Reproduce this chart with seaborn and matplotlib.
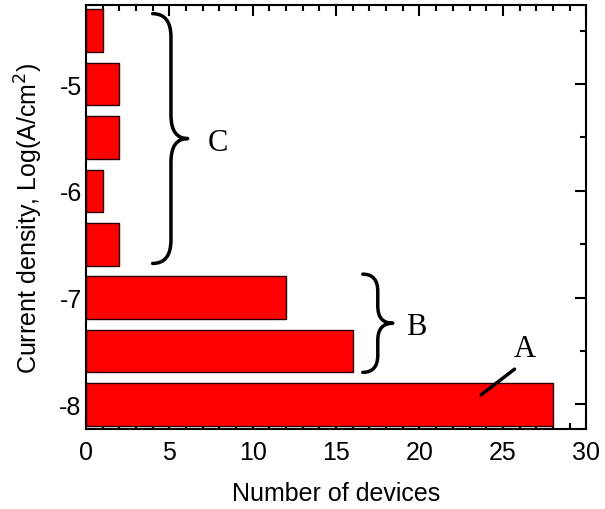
import matplotlib
matplotlib.use("Agg")
import matplotlib.pyplot as plt
import seaborn as sns
import pandas as pd
from matplotlib.path import Path
from matplotlib.patches import PathPatch
from matplotlib.ticker import MultipleLocator

log_density = [-8.0, -7.5, -7.0, -6.5, -6.0, -5.5, -5.0, -4.5]
num_devices = [28, 16, 12, 2, 1, 2, 2, 1]

sns.set_theme(style="ticks")
plt.rcParams['font.family'] = ['Liberation Sans', 'DejaVu Sans']
plt.rcParams['axes.unicode_minus'] = False
plt.rcParams['text.color'] = 'black'

df = pd.DataFrame({"density": log_density, "devices": num_devices})

fig = plt.figure(figsize=(6.05, 5.10), dpi=100)
ax = fig.add_axes([0.142, 0.157, 0.827, 0.831])

sns.barplot(data=df, x="devices", y="density", orient="y", native_scale=True,
            width=0.8, color="#ff0000", saturation=1, edgecolor="#2a0000",
            linewidth=1.0, ax=ax)

ax.set_xlim(0, 30)
ax.set_ylim(-8.23, -4.26)
ax.xaxis.set_major_locator(MultipleLocator(5))
ax.xaxis.set_minor_locator(MultipleLocator(1))
ax.yaxis.set_major_locator(MultipleLocator(1))
ax.yaxis.set_minor_locator(MultipleLocator(0.5))
ax.tick_params(which="both", direction="in", top=True, right=True, width=1.5, color="black")
ax.tick_params(which="major", length=8, labelsize=18, labelcolor="black")
ax.tick_params(axis="x", which="major", pad=8)
ax.tick_params(axis="y", which="major", pad=3)
ax.tick_params(which="minor", length=4)
for s in ax.spines.values():
    s.set_linewidth(1.5)
    s.set_color("black")

ax.set_xlabel("Number of devices", fontsize=18, labelpad=12, color="black")
ax.set_ylabel("Current density, Log(A/cm$^2$)", fontsize=18, labelpad=10, color="black")


def brace(ax, x0, xm, x1, ytop, ybot, r):
    ymid = (ytop + ybot) / 2
    verts = [(x0, ytop), (xm, ytop), (xm, ytop - r),
             (xm, ymid + r),
             (xm, ymid), (x1, ymid),
             (xm, ymid), (xm, ymid - r),
             (xm, ybot + r),
             (xm, ybot), (x0, ybot)]
    codes = [Path.MOVETO, Path.CURVE3, Path.CURVE3,
             Path.LINETO,
             Path.CURVE3, Path.CURVE3,
             Path.CURVE3, Path.CURVE3,
             Path.LINETO,
             Path.CURVE3, Path.CURVE3]
    ax.add_patch(PathPatch(Path(verts, codes), fill=False, lw=2.5,
                           edgecolor="black", capstyle="round", joinstyle="round"))

brace(ax, 4.0, 5.1, 6.1, -4.34, -6.68, 0.22)
brace(ax, 16.6, 17.5, 18.4, -6.78, -7.70, 0.16)

serif = ['Liberation Serif', 'DejaVu Serif']
ax.text(7.9, -5.55, "C", fontsize=22, family=serif, ha="center", va="center", color="black")
ax.text(19.8, -7.27, "B", fontsize=22, family=serif, ha="center", va="center", color="black")
ax.text(26.3, -7.48, "A", fontsize=22, family=serif, ha="center", va="center", color="black")
ax.plot([23.7, 25.7], [-7.91, -7.67], color="black", lw=2.5)

fig.savefig("out.png", dpi=100)
